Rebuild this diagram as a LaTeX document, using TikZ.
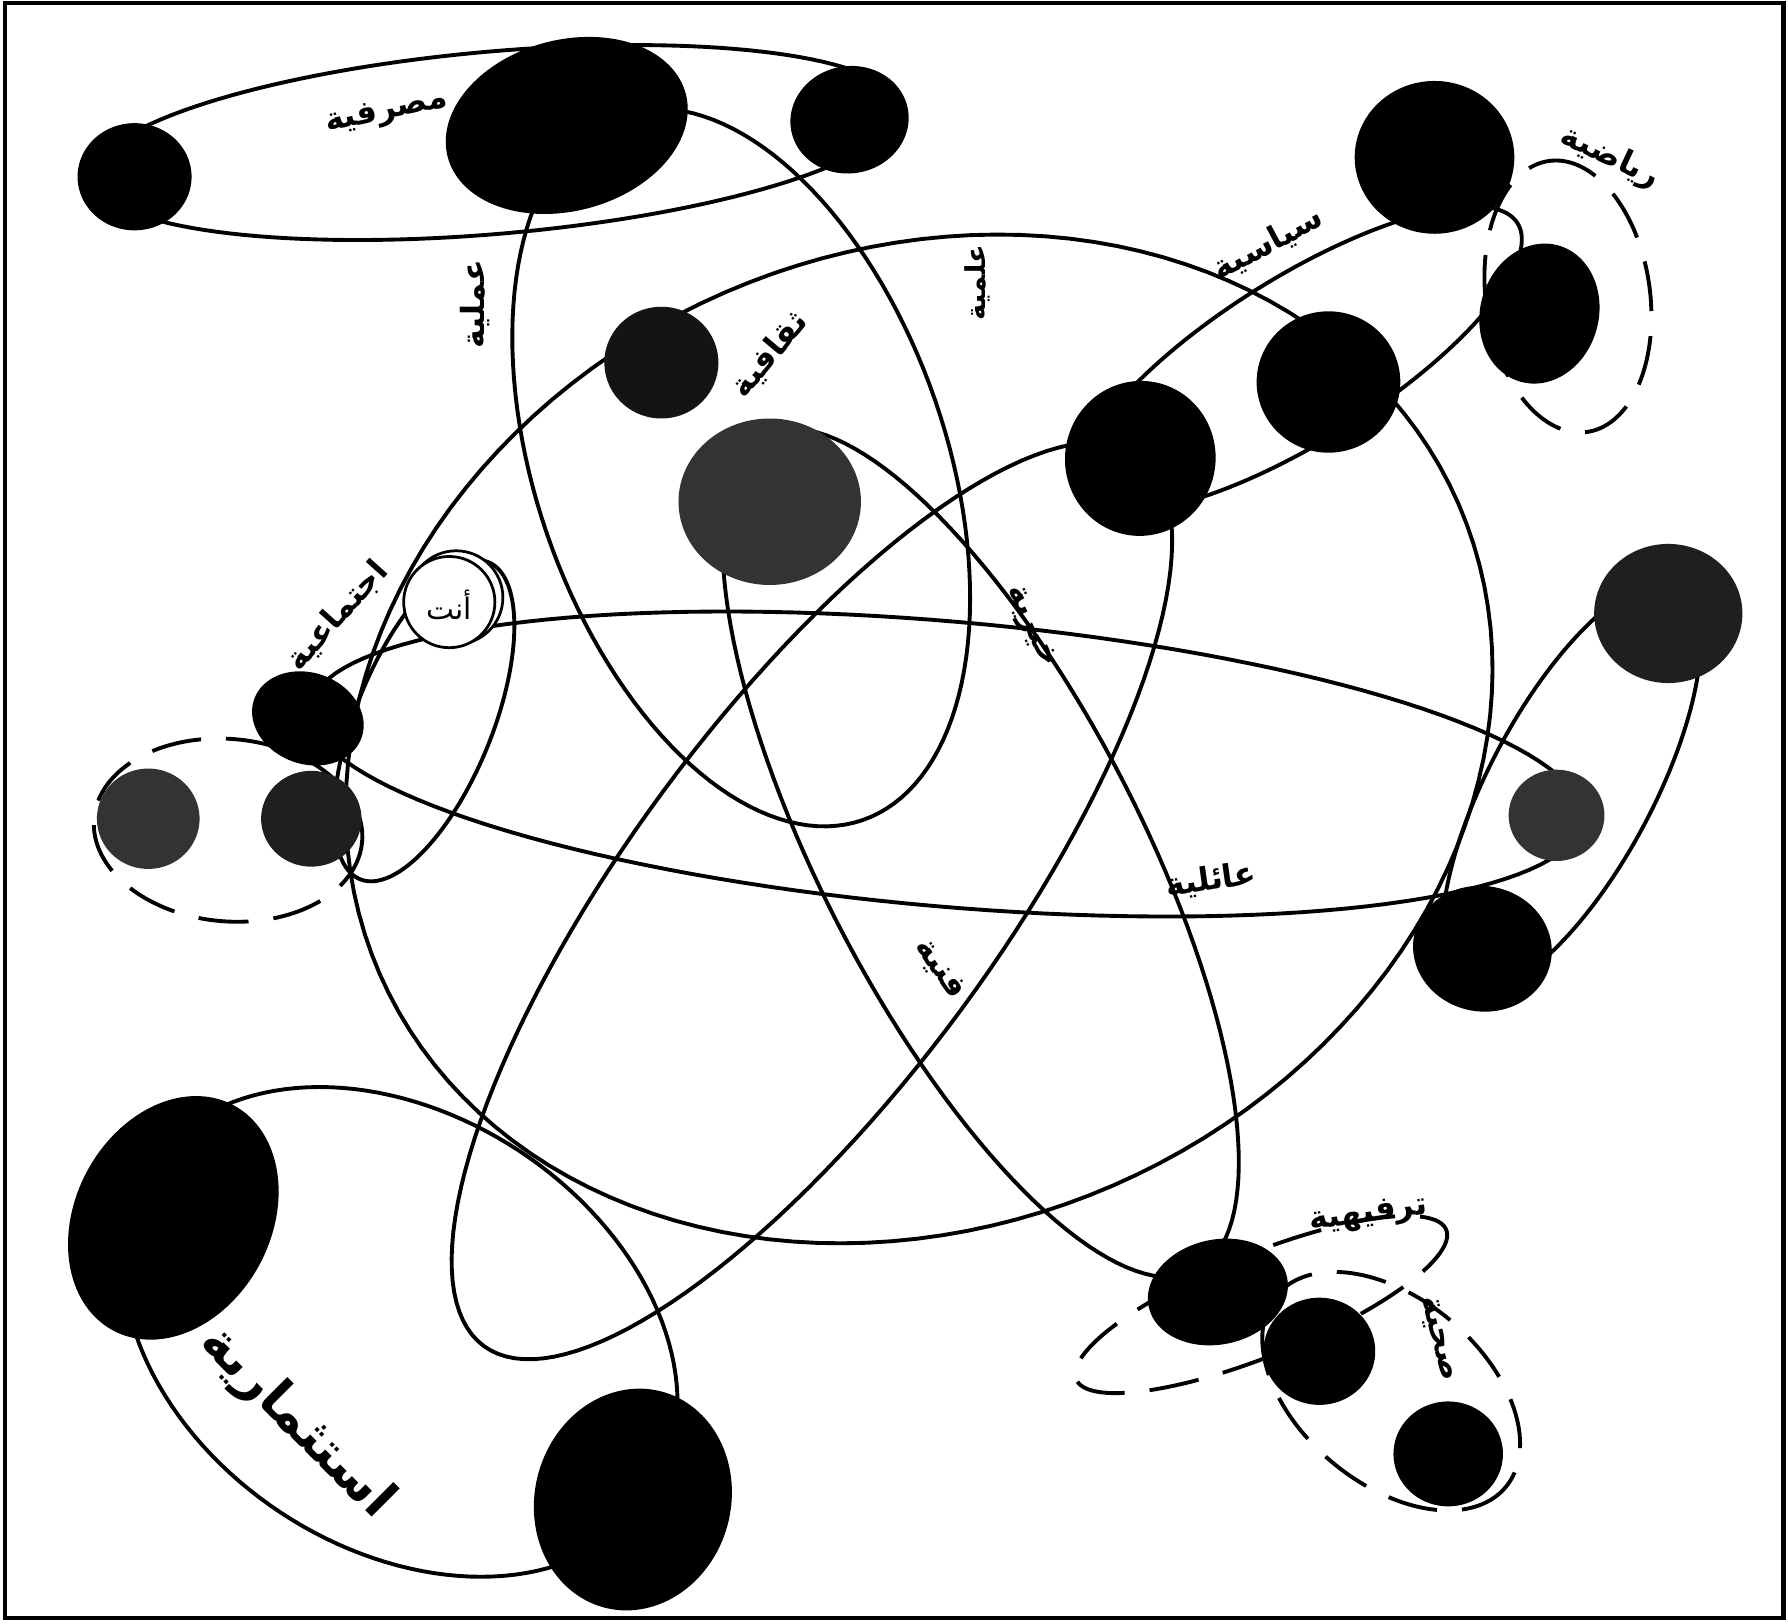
\documentclass[tikz,border=0pt]{standalone}
\usepackage{fontspec}
\newfontfamily\arabicfont[Script=Arabic]{DejaVu Sans}
\TeXXeTstate=1
% rotated ellipse: cx cy a b phi (phi = visual counter-clockwise tilt of axis a)
\newcommand\rotell[5]{plot[domain=0:360,samples=145,variable=\t]({#1+(#3)*cos(#5)*cos(\t)+(#4)*sin(#5)*sin(\t)},{#2-(#3)*sin(#5)*cos(\t)+(#4)*cos(#5)*sin(\t)}) -- cycle}
% ellipse from conjugate half-diameters p=(#3,#4), q=(#5,#6)
\newcommand\conjell[6]{plot[domain=0:360,samples=145,variable=\t]({#1+(#3)*cos(\t)+(#5)*sin(\t)},{#2+(#4)*cos(\t)+(#6)*sin(\t)}) -- cycle}
\tikzset{
  outline/.style={draw=black, line width=1.7pt, line join=round},
  dashring/.style={draw=black, line width=1.7pt, dash pattern=on 22pt off 11pt},
  blob/.style={fill=black},
  greyblob/.style={fill=black!80},
  lbl/.style={font=\arabicfont\bfseries\fontsize{14}{14}\selectfont, inner sep=0pt},
  biglbl/.style={font=\arabicfont\bfseries\fontsize{23}{23}\selectfont, inner sep=0pt}
}
\begin{document}
\begin{tikzpicture}[x=0.5pt,y=-0.5pt]
\useasboundingbox (0,0) rectangle (1568,1424);
\fill[white] (0,0) rectangle (1568,1424);
\draw[line width=1.8pt] (4,3) rectangle (1564,1419);

% ---- outline loops ----
\draw[outline] \rotell{435}{125}{355}{80}{5};      % top group
\draw[outline] \rotell{650}{410}{327}{180}{-71};   % loop from big top blob
\draw[outline] \rotell{806}{648}{516}{427}{23.5};  % large central ring
\draw[outline] \rotell{1140}{315}{225}{72}{32};    % G-F-E group
\draw[outline] \conjell{860}{748}{165}{372}{155}{0}; % grey blob to S
\draw[outline] \rotell{712}{790}{485}{162}{53.6};  % G to lower left loop
\draw[outline] \rotell{1378}{690}{200}{72}{62};    % N-P group
\draw[outline] \rotell{830}{670}{560}{125}{-5};    % long horizontal ring
\draw[outline] \rotell{372}{632}{150}{60}{68};     % around "you"
\draw[outline] \rotell{351}{1168}{263}{190}{-33.4};% bottom left pair

% ---- dashed rings ----
\draw[dashring] \rotell{1375}{260}{120}{72}{98};
\draw[dashring] \rotell{200}{728}{118}{80}{-5};
\draw[dashring] \rotell{1106}{1144}{175}{45}{22};
\draw[dashring] \rotell{1220}{1220}{131}{81}{-40};

% ---- blobs ----
\fill[blob] \rotell{118}{155}{50}{47}{0};
\fill[blob] \rotell{497}{110}{108}{75}{15};
\fill[blob] \rotell{745}{105}{52}{47}{10};
\fill[blob] \rotell{1258}{138}{70}{67}{0};
\fill[blob] \rotell{1350}{275}{62}{52}{75};
\fill[blob] \rotell{1165}{335}{63}{62}{0};
\fill[blob] \rotell{1000}{402}{68}{66}{80};
\fill[black!92] \rotell{580}{318}{50}{49}{0};
\fill[greyblob] \rotell{675}{440}{80}{73}{0};
\fill[blob] \rotell{270}{630}{50}{40}{-20};
\fill[greyblob] \rotell{130}{718}{45}{44}{0};
\fill[black!88] \rotell{273}{718}{44}{42}{0};
\fill[black!88] \rotell{1463}{538}{65}{61}{0};
\fill[greyblob] \rotell{1365}{715}{42}{40}{0};
\fill[blob] \rotell{1300}{832}{61}{55}{-10};
\fill[blob] \rotell{152}{1068}{112}{86}{62};
\fill[blob] \rotell{555}{1315}{98}{86}{75};
\fill[blob] \rotell{1068}{1133}{62}{46}{12};
\fill[blob] \rotell{1157}{1185}{49}{47}{0};
\fill[blob] \rotell{1270}{1275}{48}{46}{0};

% ---- "you" ----
\draw[line width=1.2pt, fill=white] (400,524) circle (41);
\draw[line width=1.2pt, fill=white] (394,528) circle (40);
\node[font=\arabicfont\fontsize{13}{13}\selectfont, inner sep=0pt] (you) at (394,530) {\beginR أنت\endR};

% ---- labels ----
\node[lbl, rotate=12]  (l1)  at (339,99)   {\beginR مصرفية\endR};
\node[lbl, rotate=90]  (l2)  at (417,267)  {\beginR عملية\endR};
\node[lbl, rotate=50]  (l3)  at (675,311)  {\beginR ثقافية\endR};
\node[lbl, rotate=90, font=\arabicfont\bfseries\fontsize{12}{12}\selectfont] (l4) at (857,248) {\beginR علمية\endR};
\node[lbl, rotate=28]  (l5)  at (1112,214) {\beginR سياسية\endR};
\node[lbl, rotate=-25] (l6)  at (1412,138) {\beginR رياضية\endR};
\node[lbl, rotate=48]  (l7)  at (296,540)  {\beginR اجتماعية\endR};
\node[lbl, rotate=-65] (l9)  at (903,550)  {\beginR خيرية\endR};
\node[lbl, rotate=8]   (l10) at (1062,772) {\beginR عائلية\endR};
\node[lbl, rotate=-55] (l11) at (824,850)  {\beginR فنية\endR};
\node[lbl, rotate=8]   (l12) at (1200,1066) {\beginR ترفيهية\endR};
\node[lbl, rotate=-75] (l13) at (1261,1174) {\beginR صحية\endR};
\node[biglbl, rotate=-45] (l14) at (260,1248) {\beginR استثمارية\endR};
\end{tikzpicture}
\end{document}
